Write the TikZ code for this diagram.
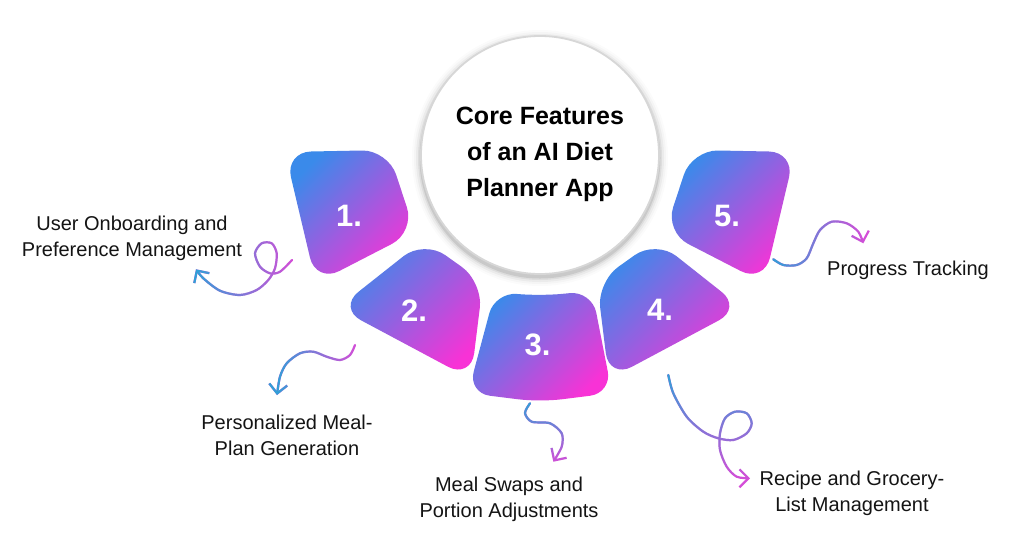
\documentclass[tikz,border=0pt]{standalone}
\usepackage{fontspec}
\setmainfont{Liberation Sans}
\usetikzlibrary{arrows.meta,fadings}
\definecolor{segblue}{RGB}{58,138,234}
\definecolor{segpink}{RGB}{248,50,214}
\definecolor{arrblue}{RGB}{50,160,215}
\definecolor{arrpink}{RGB}{212,78,216}
\definecolor{ringgray}{RGB}{215,215,215}
\tikzfading[name=opLeft, left color=transparent!0, right color=transparent!100]
\tikzfading[name=opTop, top color=transparent!0, bottom color=transparent!100]
\newcommand\wavepath[2]{%
  \draw[wave,arrpink] plot[smooth] coordinates {#2};
  \draw[wave,arrblue,path fading=#1] plot[smooth] coordinates {#2};}
\tikzset{
  seg/.style={rounded corners=26pt, top color=segblue, bottom color=segpink, shading angle=45},
  num/.style={text=white, font=\bfseries\fontsize{31}{31}\selectfont, inner sep=0pt},
  lbl/.style={align=center, font=\fontsize{20}{26}\selectfont, inner sep=0pt, text=black!92},
  wave/.style={line width=2.2pt, line cap=round, line join=round,
    -{Straight Barb[length=9pt,width=18pt,line width=2.2pt]}},
}
\begin{document}
\begin{tikzpicture}[x=1pt,y=-1pt]
\useasboundingbox (0,0) rectangle (1015,542);
\fill[white] (0,0) rectangle (1015,542);
% central circle with soft shadow
\foreach \r/\op in {128/0.015,126/0.025,124/0.04,122/0.06,120.5/0.09}{
  \fill[black,opacity=\op] (540,158) circle[radius=\r];}
\node[circle, fill=white, draw=ringgray, line width=1.8pt, minimum size=238pt, inner sep=0pt] (core) at (540,155) {};
\node[align=center, font=\bfseries\fontsize{25}{36}\selectfont, inner sep=0pt] (title) at (540,154) {Core Features\\of an AI Diet\\Planner App};
% segments
\shade[seg] (285,152) -- (388,150) -- (415,232) -- (316,283) -- cycle;
\shade[seg] (424,240) -- (483,282) -- (471,379) -- (338,308) -- cycle;
\shade[seg, rounded corners=22pt] (495,292) -- (540,296) -- (592,291) -- (612,393) -- (540,402) -- (468,393) -- cycle;
\shade[seg] (656,240) -- (597,282) -- (609,379) -- (742,308) -- cycle;
\shade[seg] (795,152) -- (692,150) -- (665,232) -- (764,283) -- cycle;
\node[num] (n1) at (349,216) {1.};
\node[num] (n2) at (414,311) {2.};
\node[num] (n3) at (537.5,345) {3.};
\node[num] (n4) at (660,310) {4.};
\node[num] (n5) at (727,216) {5.};
% labels
\node[lbl] (l1) at (132,238) {User Onboarding and\\Preference Management};
\node[lbl] (l2) at (287,435) {Personalized Meal-\\Plan Generation};
\node[lbl] (l3) at (509,499) {Meal Swaps and\\Portion Adjustments};
\node[lbl] (l4) at (852,493) {Recipe and Grocery-\\List Management};
\node[lbl] (l5) at (908,270) {Progress Tracking};
% wavy arrows
\coordinate (w1s) at (292,260);   \coordinate (w1e) at (196,269.3);
\coordinate (w2s) at (355,345);   \coordinate (w2e) at (277,395);
\coordinate (w3s) at (530,403.3); \coordinate (w3e) at (553.3,461.7);
\coordinate (w4s) at (668.3,375); \coordinate (w4e) at (750,478.3);
\coordinate (w5s) at (773.3,259.3); \coordinate (w5e) at (863.3,243.3);
\wavepath{opLeft}{(w1s) (280,271.7) (270,273.3) (260,266.7) (255,253.3) (261.7,243.3) (271.7,243.3) (276.7,253.3) (275,268.3) (268.3,280) (256.7,290) (240,295) (220,290.7) (203.3,278.3) (w1e)}
\wavepath{opLeft}{(w2s) (350,355) (340,360) (326.7,356.7) (313.3,351.7) (300,353.3) (286.7,363.3) (280,376.7) (w2e)}
\wavepath{opTop}{(w3s) (525,413) (531.7,421.7) (550,423.3) (561.7,433.3) (561.7,446.7) (w3e)}
\wavepath{opTop}{(w4s) (673.3,393.3) (686.7,416.7) (703.3,431.7) (718.3,438.3) (733.3,440) (746.7,433.3) (751.7,423.3) (746.7,413.3) (735,411.7) (725,418.3) (720,433.3) (720,450) (726.7,466.7) (736.7,476.7) (w4e)}
\wavepath{opLeft}{(w5s) (783.3,265) (796.7,265) (806.7,258.3) (813.3,243.3) (820,230) (831.7,221.7) (846.7,223.3) (858.3,231.7) (w5e)}
\end{tikzpicture}
\end{document}
